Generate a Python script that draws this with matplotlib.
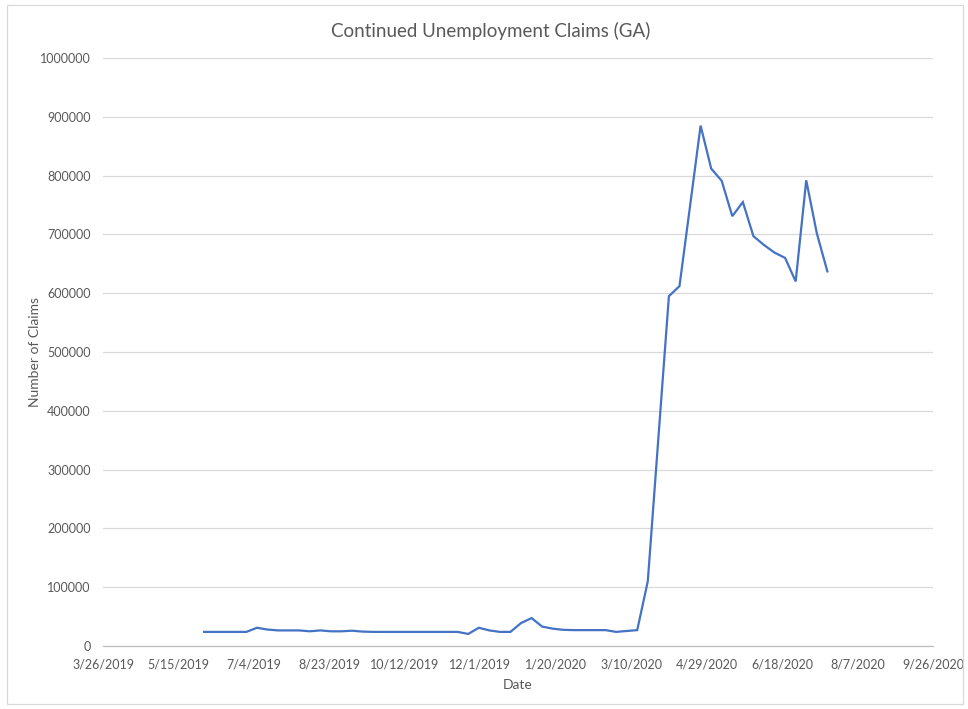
import pandas as pd
import matplotlib.pyplot as plt
from matplotlib.patches import Rectangle

# Weekly continued claims, Georgia
start_date = '2019-06-01'
claims = [
    24000, 24000, 24000, 24000, 24000, 31000, 28000, 26500, 26500, 26500,
    25000, 26500, 25000, 25000, 26000, 24500, 24000, 24000, 24000, 24000,
    24000, 24000, 24000, 24000, 24000, 20500, 31000, 26500, 24000, 24000,
    39000, 47500, 33000, 29500, 27500, 27000, 27000, 27000, 27000, 24000,
    25500, 27000, 110000, 353000, 595000, 612000, 748000, 885000, 812000, 791000,
    731000, 755000, 697000, 682000, 669000, 660000, 620000, 792000, 702000, 637000,
]
dates = pd.date_range(start_date, periods=len(claims), freq='7D')

x_start = pd.Timestamp('2019-03-26')
x_end = pd.Timestamp('2020-09-26')
tick_dates = pd.date_range(x_start, x_end, freq='50D')
y_ticks = list(range(0, 1000001, 100000))

W, H = 968, 709
fig = plt.figure(figsize=(W / 100, H / 100), dpi=100)
plt.rcParams['font.family'] = ['Lato', 'DejaVu Sans']

# plot area in pixels: left 103, right 933, top 58, bottom 646
ax = fig.add_axes([103 / W, 1 - 646 / H, (933 - 103) / W, (646 - 58) / H])

ax.plot(dates, claims, color='#4472C4', lw=1.6, solid_joinstyle='miter')

ax.set_xlim(x_start, x_end)
ax.set_ylim(0, 1000000)
ax.set_xticks(tick_dates)
ax.set_xticklabels([f'{d.month}/{d.day}/{d.year}' for d in tick_dates])
ax.set_yticks(y_ticks)
ax.set_yticklabels([str(v) for v in y_ticks])

ax.grid(axis='y', color='#d9d9d9', lw=0.9)
ax.set_axisbelow(True)
for side in ['left', 'right', 'top']:
    ax.spines[side].set_visible(False)
ax.spines['bottom'].set_color('#bfbfbf')
ax.spines['bottom'].set_linewidth(0.9)
ax.tick_params(axis='both', length=0, colors='#595959', labelsize=9)
ax.tick_params(axis='x', pad=9)
ax.tick_params(axis='y', pad=9)

ax.set_xlabel('Date', color='#595959', fontsize=10)
ax.set_ylabel('Number of Claims', color='#595959', fontsize=10)
# label positions in pixels: "Date" centred at y=685, y label at x=35
ax.xaxis.set_label_coords(0.5, -(685 - 646) / (646 - 58))
ax.yaxis.set_label_coords(-(103 - 35) / (933 - 103), 0.5)
ax.xaxis.label.set_va('center')
ax.yaxis.label.set_va('center')

fig.text(491 / W, 1 - 31 / H, 'Continued Unemployment Claims (GA)',
         ha='center', va='center', color='#595959', fontsize=13.5)

# chart area border
fig.patches.append(Rectangle((7 / W, 1 - 704 / H), (963 - 7) / W, (704 - 5) / H,
                             transform=fig.transFigure, fill=False,
                             edgecolor='#d9d9d9', lw=0.9))

plt.savefig('out.png', dpi=100)
plt.close()
